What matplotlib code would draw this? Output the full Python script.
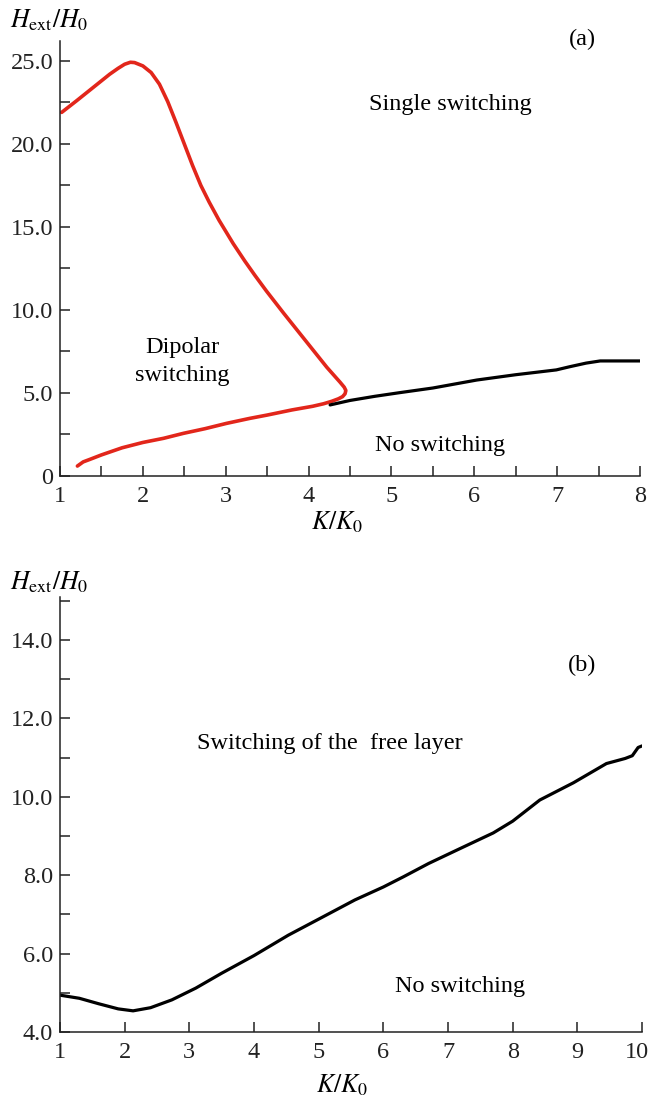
import matplotlib
matplotlib.use("Agg")
import matplotlib.pyplot as plt
from matplotlib.ticker import MultipleLocator

plt.rcParams['font.family'] = ['Liberation Serif', 'DejaVu Serif']
plt.rcParams['mathtext.fontset'] = 'stix'

# ---------------- data: panel (a) ----------------
red_K = [1.02, 1.2, 1.4, 1.6, 1.7, 1.78, 1.85, 1.9, 2.0, 2.1, 2.2, 2.3, 2.4, 2.5,
         2.6, 2.7, 2.8, 2.92, 3.09, 3.23, 3.35, 3.49, 3.7, 3.90, 4.06, 4.22, 4.3,
         4.38, 4.43, 4.45, 4.44, 4.41, 4.36, 4.28, 4.18, 4.05, 3.8, 3.5, 3.29, 3.01,
         2.75, 2.49, 2.25, 2.0, 1.75, 1.5, 1.36, 1.28, 1.21]
red_H = [21.9, 22.6, 23.4, 24.2, 24.55, 24.8, 24.92, 24.9, 24.7, 24.3, 23.6, 22.55, 21.3, 20.0,
         18.7, 17.5, 16.5, 15.4, 14.0, 12.95, 12.1, 11.15, 9.8, 8.55, 7.55, 6.55, 6.1,
         5.65, 5.35, 5.15, 4.95, 4.78, 4.65, 4.5, 4.35, 4.2, 3.98, 3.67, 3.47, 3.17,
         2.85, 2.57, 2.27, 2.02, 1.7, 1.27, 1.0, 0.85, 0.6]
blackA_K = [4.26, 4.5, 4.8, 5.1, 5.5, 6.03, 6.5, 6.99, 7.15, 7.35, 7.52, 8.0]
blackA_H = [4.28, 4.55, 4.8, 5.02, 5.3, 5.78, 6.1, 6.39, 6.58, 6.8, 6.93, 6.93]

# ---------------- data: panel (b) ----------------
blackB_K = [1.0, 1.3, 1.6, 1.9, 2.13, 2.4, 2.73, 3.1, 3.5, 4.0, 4.53, 5.0, 5.56, 6.0,
            6.31, 6.7, 7.16, 7.70, 8.0, 8.42, 8.94, 9.45, 9.74, 9.85, 9.94, 10.0]
blackB_H = [4.94, 4.86, 4.72, 4.59, 4.54, 4.62, 4.82, 5.12, 5.50, 5.95, 6.47, 6.88, 7.37, 7.70,
            7.96, 8.3, 8.66, 9.08, 9.38, 9.92, 10.36, 10.85, 10.98, 11.05, 11.26, 11.3]

yticks_a = [0, 5, 10, 15, 20, 25]
yticklabels_a = ['0', '5.0', '10.0', '15.0', '20.0', '25.0']
yticks_b = [4, 6, 8, 10, 12, 14]
yticklabels_b = ['4.0', '6.0', '8.0', '10.0', '12.0', '14.0']
xticks_b = [1, 2, 3, 4, 5, 6, 7, 8, 9, 10]
xticklabels_b = ['1', '2', '3', '4', '5', '6', '7', '8', '9', '10']

FS = 17.5
W, H = 648, 1103
fig = plt.figure(figsize=(W / 100, H / 100), dpi=100)

def style(ax):
    for s in ['top', 'right']:
        ax.spines[s].set_visible(False)
    for s in ['left', 'bottom']:
        ax.spines[s].set_linewidth(1.1)
        ax.spines[s].set_color('#222222')
    ax.tick_params(which='both', direction='in', length=7, width=1.1,
                   colors='#222222', labelsize=FS, pad=5)
    ax.tick_params(axis='x', pad=7)

# panel (a)
axA = fig.add_axes([60 / W, 1 - 476 / H, 580 / W, 435 / H])
style(axA)
axA.plot(red_K, red_H, color='#e2261b', lw=2.6, solid_capstyle='round', solid_joinstyle='round')
axA.plot(blackA_K, blackA_H, color='black', lw=2.3, solid_capstyle='round')
axA.set_xlim(1, 8)
axA.set_ylim(0, 26.2)
axA.xaxis.set_major_locator(MultipleLocator(1))
axA.xaxis.set_minor_locator(MultipleLocator(0.5))
axA.set_yticks(yticks_a)
axA.set_yticklabels(yticklabels_a)
axA.yaxis.set_minor_locator(MultipleLocator(2.5))
axA.text(7.30, 26.3, '(a)', fontsize=FS, ha='center', va='center')
axA.text(5.71, 22.35, 'Single switching', fontsize=FS, ha='center', va='center')
axA.text(2.48, 6.9, 'Dipolar\nswitching', fontsize=FS, ha='center', va='center',
         linespacing=1.45)
axA.text(5.59, 1.83, 'No switching', fontsize=FS, ha='center', va='center')

# panel (b)
axB = fig.add_axes([60 / W, 1 - 1032 / H, 582 / W, 435 / H])
style(axB)
axB.plot(blackB_K, blackB_H, color='black', lw=2.3, solid_capstyle='round')
axB.set_xlim(1, 10)
axB.set_ylim(4, 15.1)
axB.set_xticks(xticks_b)
axB.set_xticklabels(xticklabels_b[:-1] + [''])
# last label nudged left so that it stays inside the figure
axB.annotate(xticklabels_b[-1], xy=(xticks_b[-1], 0), xycoords=axB.get_xaxis_transform(),
             xytext=(-4, -7), textcoords='offset points', ha='center', va='top',
             fontsize=FS, color='#222222')
axB.set_yticks(yticks_b)
axB.set_yticklabels(yticklabels_b)
axB.yaxis.set_minor_locator(MultipleLocator(1))
axB.text(9.07, 13.36, '(b)', fontsize=FS, ha='center', va='center')
axB.text(5.17, 11.37, 'Switching of the  free layer', fontsize=FS, ha='center', va='center')
axB.text(7.19, 5.17, 'No switching', fontsize=FS, ha='center', va='center')

# axis labels
ylab = r'$H_{\mathrm{ext}}/H_0$'
xlab = r'$K/K_0$'
fig.text(10 / W, 1 - 20 / H, ylab, fontsize=FS + 1, ha='left', va='center')
fig.text(10 / W, 1 - 582 / H, ylab, fontsize=FS + 1, ha='left', va='center')
fig.text(337 / W, 1 - 522 / H, xlab, fontsize=FS + 1, ha='center', va='center')
fig.text(342 / W, 1 - 1085 / H, xlab, fontsize=FS + 1, ha='center', va='center')

fig.savefig('out.png', dpi=100)
